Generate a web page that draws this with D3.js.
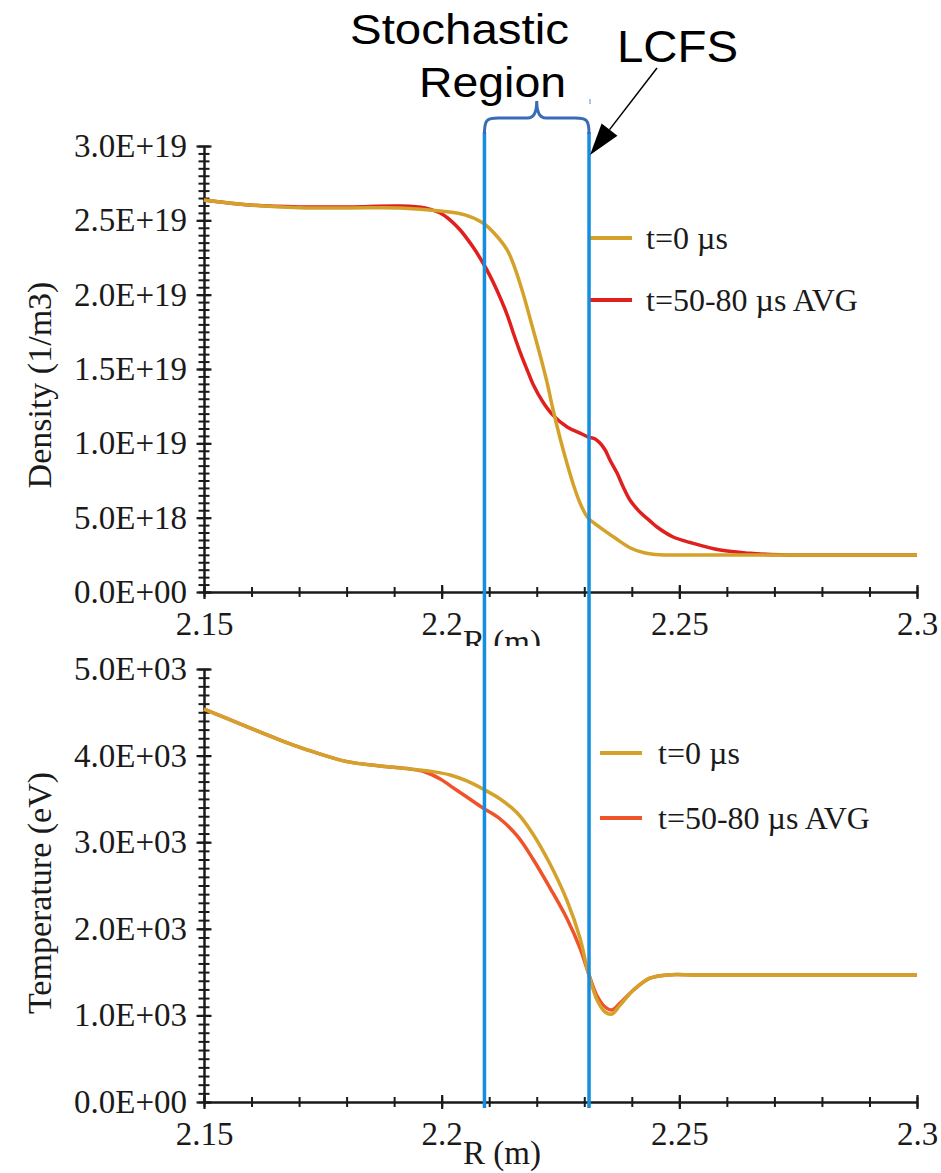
<!DOCTYPE html>
<html>
<head>
<meta charset="utf-8">
<script src="https://cdn.jsdelivr.net/npm/d3@7"></script>
<style>
    body { margin: 0; background: #fff; }
    svg text { font-family: "Liberation Serif", "Times New Roman", serif; fill: #1a1a1a; }
    .note { font-family: "Liberation Sans", Arial, sans-serif !important; fill: #000; }
</style>
</head>
<body>
<div id="chart"></div>
<script>

// density, t=0
const densR0 = [2.15, 2.1597, 2.1702, 2.1807, 2.1912, 2.1997, 2.2049, 2.2087, 2.2112, 2.2138, 2.2154, 2.2171, 2.2188, 2.2207, 2.2222, 2.2234, 2.2249, 2.2264, 2.2278, 2.2291, 2.2308, 2.2333, 2.2365, 2.2396, 2.2428, 2.2459, 2.25, 2.27, 2.3];
const densN0 = [2.637, 2.603, 2.585, 2.583, 2.583, 2.563, 2.537, 2.482, 2.408, 2.300, 2.179, 2.011, 1.816, 1.594, 1.406, 1.231, 1.036, 0.861, 0.713, 0.599, 0.498, 0.435, 0.363, 0.298, 0.262, 0.250, 0.249, 0.249, 0.249];

// density, t=50-80 us average
const densRavg = [2.15, 2.1597, 2.1702, 2.1807, 2.1912, 2.1965, 2.1997, 2.2018, 2.2039, 2.2066, 2.2087, 2.2102, 2.2116, 2.2138, 2.2150, 2.2165, 2.2180, 2.2192, 2.2213, 2.2234, 2.2264, 2.2291, 2.2308, 2.2323, 2.2333, 2.2344, 2.2354, 2.2369, 2.2382, 2.2396, 2.2417, 2.2438, 2.2453, 2.2487, 2.2523, 2.2586, 2.2649, 2.2712, 2.28, 2.3];
const densNavg = [2.637, 2.603, 2.590, 2.590, 2.596, 2.583, 2.549, 2.502, 2.435, 2.320, 2.213, 2.125, 2.031, 1.863, 1.749, 1.614, 1.493, 1.399, 1.278, 1.190, 1.110, 1.069, 1.043, 1.029, 1.002, 0.955, 0.888, 0.800, 0.706, 0.619, 0.538, 0.478, 0.437, 0.370, 0.333, 0.282, 0.260, 0.250, 0.249, 0.249];

// temperature, t=0
const tempR0 = [2.15, 2.1590, 2.1660, 2.1729, 2.1801, 2.1870, 2.1940, 2.1982, 2.2018, 2.2053, 2.2087, 2.2123, 2.2159, 2.2192, 2.2228, 2.2264, 2.2291, 2.2308, 2.2327, 2.2344, 2.2358, 2.2375, 2.2403, 2.2438, 2.2474, 2.2544, 2.3];
const tempT0 = [4538, 4334, 4180, 4045, 3930, 3880, 3842, 3814, 3776, 3707, 3614, 3499, 3337, 3095, 2748, 2321, 1894, 1501, 1178, 1039, 1016, 1115, 1290, 1430, 1467, 1467, 1467];

// temperature, t=50-80 us average
const tempRavg = [2.15, 2.1590, 2.1660, 2.1729, 2.1801, 2.1870, 2.1933, 2.1965, 2.1997, 2.2028, 2.2053, 2.2087, 2.2123, 2.2159, 2.2192, 2.2228, 2.2264, 2.2291, 2.2308, 2.2327, 2.2344, 2.2358, 2.2375, 2.2403, 2.2438, 2.2474, 2.2544, 2.3];
const tempTavg = [4538, 4334, 4180, 4045, 3930, 3880, 3845, 3811, 3730, 3614, 3522, 3395, 3268, 3072, 2806, 2471, 2113, 1778, 1501, 1224, 1097, 1062, 1140, 1290, 1430, 1467, 1467, 1467];

const seriesLabels = ["t=0 \u00b5s", "t=50-80 \u00b5s AVG"];

// tick values
const rMajor = [2.15, 2.2, 2.25, 2.3];
const rMinor = d3.range(0, 16).map(i => +(2.15 + i * 0.01).toFixed(2));
const densMajor = d3.range(0, 7).map(i => i * 5e18);
const densMinor = d3.range(0, 61).map(i => i * 5e17);
const tempMajor = [0, 1000, 2000, 3000, 4000, 5000];
const tempMinor = d3.range(0, 51).map(i => i * 100);

// region markers (m)
const stochStart = 2.209;
const lcfs = 2.231;

const W = 941, H = 1173;
const ink = "#1a1a1a";
const gold = "#d4a22a";

function sci(v) {
    let parts = v.toExponential(1).split("e");
    let exp = parts[1];
    return parts[0] + "E" + exp[0] + exp.slice(1).padStart(2, "0");
}

function zip(a, b) {
    return a.map((r, i) => ({ r: r, v: b[i] }));
}

function drawPanel(svg, cfg) {
    const x = d3.scaleLinear().domain([2.15, 2.3]).range([204, 917]);
    const y = d3.scaleLinear().domain(cfg.yDomain).range(cfg.yRange);
    const g = svg.append("g");
    const x0 = x.range()[0];
    const y0 = y.range()[0];

    // y minor ticks (cross the axis)
    g.append("g")
        .attr("transform", "translate(" + x0 + ",0)")
        .call(d3.axisLeft(y).tickValues(cfg.yMinor).tickSize(5.5).tickFormat(""))
        .call(a => a.select(".domain").remove())
        .call(a => a.selectAll(".tick line").attr("x1", 5.5).attr("stroke", ink).attr("stroke-width", 2));

    // y major ticks and labels
    g.append("g")
        .attr("transform", "translate(" + x0 + ",0)")
        .call(d3.axisLeft(y).tickValues(cfg.yMajor).tickSize(7.5).tickSizeOuter(0).tickPadding(9.5).tickFormat(sci))
        .call(a => a.select(".domain").attr("stroke", ink).attr("stroke-width", 2.5))
        .call(a => a.selectAll(".tick line").attr("x1", 7.5).attr("stroke", ink).attr("stroke-width", 2.2))
        .call(a => a.selectAll("text").attr("font-size", 33).attr("font-family", null).attr("fill", ink));

    // x minor ticks
    g.append("g")
        .attr("transform", "translate(0," + y0 + ")")
        .call(d3.axisBottom(x).tickValues(rMinor).tickSize(5).tickFormat(""))
        .call(a => a.select(".domain").remove())
        .call(a => a.selectAll(".tick line").attr("y1", -5).attr("stroke", ink).attr("stroke-width", 2));

    // x major ticks and labels
    g.append("g")
        .attr("transform", "translate(0," + y0 + ")")
        .call(d3.axisBottom(x).tickValues(rMajor).tickSize(7).tickSizeOuter(0).tickPadding(13).tickFormat(d3.format("")))
        .call(a => a.select(".domain").attr("stroke", ink).attr("stroke-width", 2.5))
        .call(a => a.selectAll(".tick line").attr("y1", -7).attr("stroke", ink).attr("stroke-width", 2.2))
        .call(a => a.selectAll("text").attr("font-size", 33).attr("font-family", null).attr("fill", ink));

    // axis titles
    g.append("text")
        .attr("transform", "translate(51," + cfg.yTitleAt + ") rotate(-90)")
        .attr("text-anchor", "middle")
        .attr("font-size", 34)
        .text(cfg.yTitle);

    let rt = g.append("text")
        .attr("x", 463)
        .attr("y", y0 + cfg.rTitleDy)
        .attr("font-size", 33)
        .text("R (m)");
    if (cfg.clipId) rt.attr("clip-path", "url(#" + cfg.clipId + ")");

    // curves
    const line = d3.line()
        .x(d => x(d.r))
        .y(d => y(d.v))
        .curve(d3.curveCatmullRom.alpha(0.5));

    g.append("path")
        .datum(cfg.avg)
        .attr("d", line)
        .attr("fill", "none")
        .attr("stroke", cfg.avgColor)
        .attr("stroke-width", 3.5);

    g.append("path")
        .datum(cfg.t0)
        .attr("d", line)
        .attr("fill", "none")
        .attr("stroke", gold)
        .attr("stroke-width", 3.5);

    // legend
    const colors = [gold, cfg.avgColor];
    const leg = g.append("g").attr("transform", "translate(" + cfg.legend[0] + "," + cfg.legend[1] + ")");
    seriesLabels.forEach(function (lab, i) {
        leg.append("line")
            .attr("x1", 0).attr("x2", 42)
            .attr("y1", i * cfg.legendStep).attr("y2", i * cfg.legendStep)
            .attr("stroke", colors[i])
            .attr("stroke-width", 4);
        leg.append("text")
            .attr("x", cfg.legendTextDx)
            .attr("y", i * cfg.legendStep + 11)
            .attr("font-size", 32)
            .text(lab);
    });

    return x;
}

function setupChart() {
    let svg = d3.select("#chart")
        .append("svg")
        .attr("width", W)
        .attr("height", H);

    svg.append("rect").attr("width", W).attr("height", H).attr("fill", "#fff");

    svg.append("defs").append("clipPath")
        .attr("id", "topClip")
        .append("rect")
        .attr("x", 0).attr("y", 0).attr("width", W).attr("height", 646);

    let x = drawPanel(svg, {
        yDomain: [0, 3e19], yRange: [592, 146],
        yMajor: densMajor, yMinor: densMinor,
        yTitle: "Density (1/m3)", yTitleAt: 385,
        rTitleDy: 61, clipId: "topClip",
        t0: zip(densR0, densN0.map(v => v * 1e19)),
        avg: zip(densRavg, densNavg.map(v => v * 1e19)),
        avgColor: "#e01f1f",
        legend: [590, 238], legendStep: 62, legendTextDx: 56
    });

    drawPanel(svg, {
        yDomain: [0, 5000], yRange: [1102, 669],
        yMajor: tempMajor, yMinor: tempMinor,
        yTitle: "Temperature (eV)", yTitleAt: 893,
        rTitleDy: 62, clipId: null,
        t0: zip(tempR0, tempT0),
        avg: zip(tempRavg, tempTavg),
        avgColor: "#f0522a",
        legend: [600, 753], legendStep: 65, legendTextDx: 58
    });

    // stochastic region and LCFS markers
    const xl = x(stochStart), xr = x(lcfs), xm = (xl + xr) / 2;
    const lineBlue = "#168ee0";
    [xl, xr].forEach(function (xv) {
        svg.append("line")
            .attr("x1", xv).attr("x2", xv)
            .attr("y1", 132).attr("y2", 1108)
            .attr("stroke", lineBlue)
            .attr("stroke-width", 3.5);
    });

    // curly brace over the region
    const by = 118;
    svg.append("path")
        .attr("d", "M" + xl + "," + 134 +
            " C" + xl + "," + (by + 2) + " " + (xl + 2) + "," + by + " " + (xl + 14) + "," + by +
            " L" + (xm - 9) + "," + by +
            " C" + (xm - 3) + "," + by + " " + xm + "," + (by - 6) + " " + xm + "," + (by - 17) +
            " C" + xm + "," + (by - 6) + " " + (xm + 3) + "," + by + " " + (xm + 9) + "," + by +
            " L" + (xr - 14) + "," + by +
            " C" + (xr - 2) + "," + by + " " + xr + "," + (by + 2) + " " + xr + "," + 134)
        .attr("fill", "none")
        .attr("stroke", "#3a6cb5")
        .attr("stroke-width", 3);

    svg.append("line")
        .attr("x1", xr + 1).attr("x2", xr + 1)
        .attr("y1", 99).attr("y2", 104)
        .attr("stroke", "#8ab4e0")
        .attr("stroke-width", 1.5);

    svg.append("text").attr("class", "note")
        .attr("x", 350).attr("y", 43.5)
        .attr("font-size", 43)
        .attr("textLength", 219).attr("lengthAdjust", "spacingAndGlyphs")
        .text("Stochastic");
    svg.append("text").attr("class", "note")
        .attr("x", 419).attr("y", 97)
        .attr("font-size", 43)
        .attr("textLength", 147).attr("lengthAdjust", "spacingAndGlyphs")
        .text("Region");
    svg.append("text").attr("class", "note")
        .attr("x", 617).attr("y", 62)
        .attr("font-size", 44)
        .attr("textLength", 121).attr("lengthAdjust", "spacingAndGlyphs")
        .text("LCFS");

    // arrow to the LCFS line
    const tip = [xr + 1, 155], tail = [657, 68];
    const dx = tip[0] - tail[0], dy = tip[1] - tail[1];
    const len = Math.sqrt(dx * dx + dy * dy);
    const ux = dx / len, uy = dy / len;
    const hb = [tip[0] - 32 * ux, tip[1] - 32 * uy];
    svg.append("line")
        .attr("x1", tail[0]).attr("y1", tail[1])
        .attr("x2", hb[0]).attr("y2", hb[1])
        .attr("stroke", "#000").attr("stroke-width", 1.5);
    svg.append("polygon")
        .attr("points", [tip, [hb[0] + 10 * uy, hb[1] - 10 * ux], [hb[0] - 10 * uy, hb[1] + 10 * ux]].map(p => p.join(",")).join(" "))
        .attr("fill", "#000");
}

setupChart();
</script>
</body>
</html>
